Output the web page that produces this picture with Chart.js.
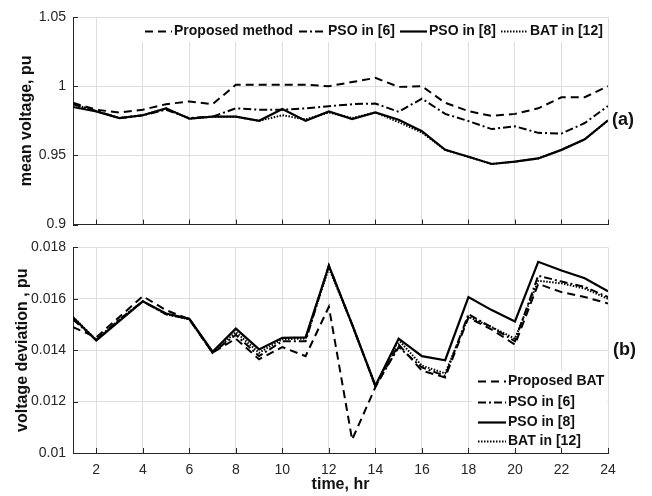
<!DOCTYPE html>
<html>
<head>
<meta charset="utf-8">
<script src="https://cdn.jsdelivr.net/npm/chart.js@4.4.1/dist/chart.umd.min.js"></script>
<style>
  html, body { margin: 0; padding: 0; background: #fff; }
  #wrap { position: relative; width: 652px; height: 496px; overflow: hidden; }
  #c1 { position: absolute; left: 0; top: 0; }
  #c2 { position: absolute; left: 0; top: 232px; }
</style>
</head>
<body>
<div id="wrap">
  <canvas id="c1" width="652" height="240"></canvas>
  <canvas id="c2" width="652" height="264"></canvas>
</div>
<script>
// ---------------- data ----------------
const hours = [1,2,3,4,5,6,7,8,9,10,11,12,13,14,15,16,17,18,19,20,21,22,23,24];

const seriesNamesTop = ['Proposed method', 'PSO in [6]', 'PSO in [8]', 'BAT in [12]'];
const seriesNamesBottom = ['Proposed BAT', 'PSO in [6]', 'PSO in [8]', 'BAT in [12]'];

// (a) mean voltage, pu
const meanProposed = [0.988, 0.983, 0.981, 0.983, 0.987, 0.989, 0.987, 1.001, 1.001, 1.001, 1.001, 1.000, 1.003, 1.006, 0.9995, 1.000, 0.988, 0.982, 0.9785, 0.980, 0.984, 0.992, 0.992, 1.000];
const meanPSO6     = [0.987, 0.982, 0.977, 0.979, 0.983, 0.977, 0.978, 0.984, 0.983, 0.983, 0.984, 0.9855, 0.987, 0.9875, 0.9815, 0.991, 0.980, 0.9748, 0.969, 0.971, 0.9663, 0.9658, 0.9734, 0.9857];
const meanPSO8     = [0.985, 0.9817, 0.977, 0.979, 0.984, 0.9765, 0.978, 0.978, 0.975, 0.9835, 0.975, 0.9817, 0.9763, 0.981, 0.9758, 0.9675, 0.954, 0.949, 0.9438, 0.9455, 0.9478, 0.954, 0.9616, 0.9753];
const meanBAT12    = [0.987, 0.982, 0.977, 0.979, 0.984, 0.9765, 0.978, 0.978, 0.975, 0.979, 0.976, 0.981, 0.977, 0.981, 0.974, 0.9665, 0.954, 0.949, 0.9438, 0.9455, 0.9478, 0.954, 0.9616, 0.9753];

// (b) voltage deviation, pu
const devProposed = [0.0149, 0.0145, 0.0153, 0.0161, 0.01556, 0.0152, 0.0139, 0.01445, 0.01365, 0.01412, 0.01377, 0.01569, 0.01052, 0.01256, 0.01422, 0.0132, 0.01294, 0.01527, 0.0148, 0.01422, 0.01658, 0.01626, 0.01607, 0.01582];
const devPSO6     = [0.0152, 0.0144, 0.0152, 0.0159, 0.0154, 0.01522, 0.0139, 0.0146, 0.01377, 0.01435, 0.01435, 0.0173, 0.0150, 0.0126, 0.01412, 0.01333, 0.0130, 0.0154, 0.01489, 0.01435, 0.0169, 0.01667, 0.01646, 0.01607];
const devPSO8     = [0.01527, 0.01438, 0.01514, 0.0159, 0.01543, 0.01522, 0.01394, 0.01484, 0.01403, 0.01448, 0.0145, 0.01729, 0.0150, 0.01262, 0.01445, 0.01377, 0.01361, 0.01607, 0.01556, 0.01512, 0.01744, 0.0171, 0.0168, 0.01629];
const devBAT12    = [0.0153, 0.0144, 0.0152, 0.0159, 0.0154, 0.0152, 0.0139, 0.0147, 0.0139, 0.01443, 0.01445, 0.0172, 0.0150, 0.0126, 0.0144, 0.0134, 0.0131, 0.0153, 0.0149, 0.01445, 0.0167, 0.0166, 0.0164, 0.0160];

// tick values / labels
const xTickValues = [2,4,6,8,10,12,14,16,18,20,22,24];
const yTopTickValues = [0.9, 0.95, 1, 1.05];
const yTopTickLabels = ['0.9', '0.95', '1', '1.05'];
const yBottomTickValues = [0.01, 0.012, 0.014, 0.016, 0.018];
const yBottomTickLabels = ['0.01', '0.012', '0.014', '0.016', '0.018'];

// ---------------- styling ----------------
const FONT = '"Liberation Sans", Arial, Helvetica, sans-serif';
Chart.defaults.font.family = FONT;
Chart.defaults.color = '#262626';

const styles = [
  { borderDash: [8, 5], borderWidth: 2 },           // dashed
  { borderDash: [8, 3, 2, 3], borderWidth: 2 },     // dash-dot
  { borderDash: [], borderWidth: 2.2 },             // solid
  { borderDash: [1.5, 1.5], borderWidth: 2 }        // dotted
];

function makeDatasets(names, arrays) {
  return arrays.map((arr, i) => ({
    label: names[i],
    data: hours.map((h, k) => ({ x: h, y: arr[k] })),
    borderColor: '#000',
    backgroundColor: '#000',
    borderWidth: styles[i].borderWidth,
    borderDash: styles[i].borderDash,
    pointRadius: 0,
    tension: 0,
    fill: false
  }));
}

const GRID = '#dedede';
const AXIS = '#262626';

const decor = {
  id: 'decor',
  beforeDatasetsDraw(chart, args, opts) {
    const ctx = chart.ctx;
    const b = opts.legendBox;
    ctx.save();
    ctx.fillStyle = '#fff';
    ctx.fillRect(b[0], b[1], b[2], b[3]);
    ctx.restore();
  },
  afterDatasetsDraw(chart, args, opts) {
    const ctx = chart.ctx;
    const ca = chart.chartArea;
    const xs = chart.scales.x, ys = chart.scales.y;
    ctx.save();
    // inward tick marks
    ctx.strokeStyle = AXIS;
    ctx.lineWidth = 1;
    ctx.setLineDash([]);
    xs.ticks.forEach(t => {
      const px = Math.round(xs.getPixelForValue(t.value)) + 0.5;
      ctx.beginPath(); ctx.moveTo(px, ca.bottom); ctx.lineTo(px, ca.bottom - 5); ctx.stroke();
    });
    ys.ticks.forEach(t => {
      const py = Math.round(ys.getPixelForValue(t.value)) + 0.5;
      ctx.beginPath(); ctx.moveTo(ca.left, py); ctx.lineTo(ca.left + 5, py); ctx.stroke();
    });
    // legend items
    ctx.font = 'bold 14px ' + FONT;
    ctx.textBaseline = 'middle';
    ctx.textAlign = 'left';
    ctx.fillStyle = '#111';
    chart.data.datasets.forEach((ds, i) => {
      const [sx, sy] = opts.items[i];
      ctx.strokeStyle = '#000';
      ctx.lineWidth = ds.borderWidth;
      ctx.setLineDash(ds.borderDash || []);
      ctx.beginPath(); ctx.moveTo(sx, sy + 0.5); ctx.lineTo(sx + opts.sample, sy + 0.5); ctx.stroke();
      ctx.setLineDash([]);
      ctx.fillText(ds.label, sx + opts.sample + 2, sy);
    });
    // panel tag
    ctx.font = 'bold 18px ' + FONT;
    ctx.fillStyle = '#111';
    ctx.fillText(opts.tag, opts.tagPos[0], opts.tagPos[1]);
    ctx.restore();
  }
};

function yScale(min, max, vals, labels, title, titlePad) {
  return {
    type: 'linear',
    min: min, max: max,
    afterBuildTicks: s => { s.ticks = vals.map(v => ({ value: v })); },
    afterFit: s => { s.width = 73; },
    ticks: {
      padding: 7,
      font: { size: 14 },
      color: AXIS,
      callback: (v) => { const i = vals.findIndex(t => Math.abs(t - v) < 1e-9); return i >= 0 ? labels[i] : ''; }
    },
    grid: { color: GRID, lineWidth: 1, drawTicks: false },
    border: { color: AXIS, width: 1 },
    title: { display: true, text: title, font: { size: 16, weight: 'bold' }, color: '#111', padding: { top: titlePad, bottom: 0 } }
  };
}

function xScale(showLabels, height) {
  return {
    type: 'linear',
    min: 1, max: 24,
    afterBuildTicks: s => { s.ticks = xTickValues.map(v => ({ value: v })); },
    afterFit: s => { s.height = height; },
    ticks: { display: showLabels, padding: 9, font: { size: 14 }, color: AXIS, maxRotation: 0, autoSkip: false,
             callback: v => String(v) },
    grid: { color: GRID, lineWidth: 1, drawTicks: false },
    border: { color: AXIS, width: 1 },
    title: { display: showLabels, text: 'time, hr', font: { size: 16, weight: 'bold' }, color: '#111', padding: { top: 0, bottom: 2 } }
  };
}

function baseOptions(padding) {
  return {
    responsive: false,
    animation: false,
    devicePixelRatio: 1,
    layout: { padding: padding },
    plugins: { legend: { display: false }, tooltip: { enabled: false } },
    elements: { line: { borderCapStyle: 'butt' } }
  };
}

// ---------------- chart (a) ----------------
const optA = baseOptions({ left: 0, right: 44, top: 17, bottom: 0 });
optA.scales = {
  x: xScale(false, 12),
  y: yScale(0.9, 1.05, yTopTickValues, yTopTickLabels, 'mean voltage, pu', 17.4)
};
optA.plugins.decor = {
  legendBox: [138, 18, 469, 24],
  items: [[145, 31], [299, 31], [400, 31], [501, 31]],
  sample: 27,
  tag: '(a)',
  tagPos: [612, 120]
};
new Chart(document.getElementById('c1'), {
  type: 'line',
  data: { datasets: makeDatasets(seriesNamesTop, [meanProposed, meanPSO6, meanPSO8, meanBAT12]) },
  options: optA,
  plugins: [decor]
});

// ---------------- chart (b) ----------------
const optB = baseOptions({ left: 0, right: 44, top: 13, bottom: 0 });
optB.scales = {
  x: xScale(true, 43),
  y: yScale(0.01, 0.018, yBottomTickValues, yBottomTickLabels, 'voltage deviation , pu', 13.4)
};
optB.plugins.decor = {
  legendBox: [472, 138, 135, 82],
  items: [[478, 149], [478, 170], [478, 190], [478, 209]],
  sample: 28,
  tag: '(b)',
  tagPos: [613, 118]
};
new Chart(document.getElementById('c2'), {
  type: 'line',
  data: { datasets: makeDatasets(seriesNamesBottom, [devProposed, devPSO6, devPSO8, devBAT12]) },
  options: optB,
  plugins: [decor]
});
</script>
</body>
</html>
